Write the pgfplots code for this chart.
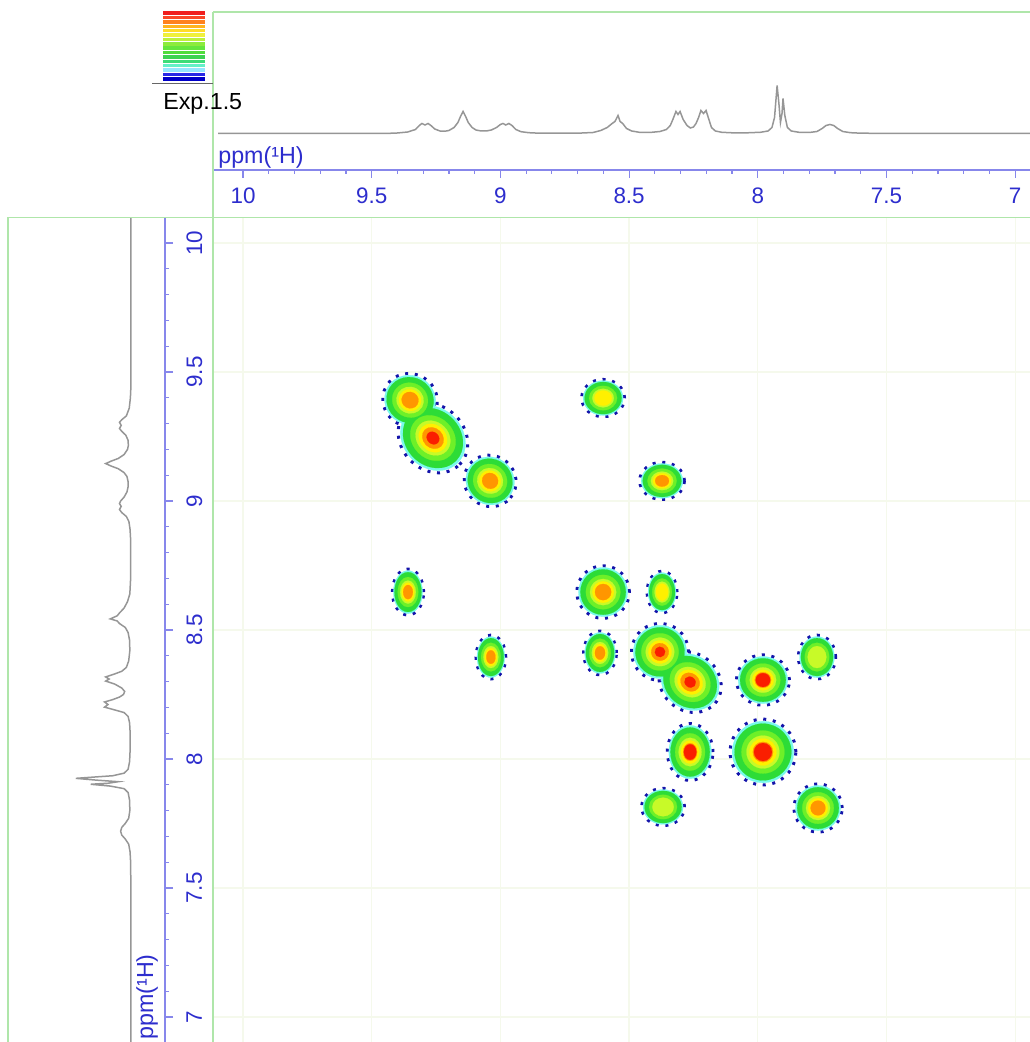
\documentclass[border=0pt]{standalone}
\usepackage{fontspec}
\setmainfont{Liberation Sans}
\usepackage{pgfplots}
\pgfplotsset{compat=1.18}
\usepackage{pgfplotstable}

\definecolor{tickblue}{RGB}{45,45,205}
\definecolor{lineblue}{RGB}{135,135,235}
\definecolor{framegreen}{RGB}{175,230,170}
\definecolor{gridc}{RGB}{245,249,236}
\definecolor{specgray}{RGB}{150,150,150}
\definecolor{ringblue}{RGB}{20,20,170}
\definecolor{cCyan}{RGB}{120,250,235}
\definecolor{cGreen}{RGB}{45,220,55}
\definecolor{cBright}{RGB}{110,240,40}
\definecolor{cLime}{RGB}{200,250,40}
\definecolor{cYellow}{RGB}{255,240,0}
\definecolor{cOrange}{RGB}{255,150,0}
\definecolor{cRed}{RGB}{250,30,0}

\pgfplotstableread{
ppm h
10.097 0
9.45 0
9.40 0.5
9.36 1.5
9.33 4
9.315 8
9.305 10
9.293 8.5
9.281 10
9.27 8
9.255 4.5
9.235 2.5
9.215 2.3
9.20 3
9.18 6
9.165 11
9.155 17
9.145 22
9.135 17
9.125 11
9.11 6
9.095 3.5
9.075 2.5
9.055 2.5
9.035 3.5
9.015 6
9.0 9
8.99 10
8.979 8.5
8.967 10
8.955 8
8.94 4
8.92 1.8
8.89 0.8
8.85 0.3
8.70 0.3
8.64 1
8.61 3
8.585 6
8.566 10
8.555 12
8.543 18
8.535 12
8.525 10
8.51 5
8.49 2.5
8.46 1.2
8.42 1
8.38 2
8.355 4
8.34 8
8.33 14
8.318 22
8.310 19
8.302 22
8.29 14
8.275 8
8.262 5.5
8.25 6.5
8.24 10
8.23 16
8.221 23
8.211 20
8.201 23
8.19 14
8.18 6
8.165 2.5
8.14 1.2
8.10 0.7
8.04 0.7
7.99 1.2
7.96 2.5
7.945 6
7.935 16
7.925 48
7.918 30
7.912 11
7.906 20
7.902 35
7.895 18
7.885 6
7.87 2.5
7.84 1.2
7.80 1
7.77 2
7.75 5
7.735 8
7.72 9
7.705 8
7.69 5
7.67 2
7.64 0.8
7.60 0.3
7.50 0.1
6.90 0
}\spectrum

\pgfplotstableread{
x y r e a lev
9.351 9.391 24 1.05 -30 3
9.262 9.244 29 1.18 -45 4
9.040 9.078 23 1.05 -40 3
8.601 9.399 17 1.15 0 2
8.372 9.078 17 1.2 0 3
9.359 8.647 21 0.68 0 3
9.037 8.395 20 0.68 0 3
8.601 8.647 24 1.0 0 3
8.372 8.647 19 0.72 0 2
8.613 8.411 20 0.75 0 3
8.380 8.415 26 1.0 -40 4
8.263 8.298 26 1.15 -40 4
7.980 8.306 23 1.05 0 5
7.770 8.395 20 0.85 0 1
8.263 8.027 26 0.8 0 5
7.980 8.027 30 1.0 0 5
8.368 7.814 17 1.15 0 1
7.766 7.810 22 1.0 0 3
}\peaks

\newcommand{\blob}[3]{%
 \addplot[#1, scatter, only marks, mark=*,
   visualization depends on={\thisrow{r} \as \rad},
   visualization depends on={\thisrow{e} \as \ecc},
   visualization depends on={\thisrow{a} \as \ang},
   scatter/use mapped color={draw=#1, fill=#1, line width=0.1bp},
   scatter/@pre marker code/.append style={/tikz/rotate=\ang, /tikz/xscale=\ecc, /tikz/mark size={\rad*0.6*#2}},
 ] table[x=x, y expr={\thisrow{lev}>=#3 ? \thisrow{y} : nan}] {\peaks};}

\begin{document}
\begin{tikzpicture}
\path (0,0) rectangle (618bp,625.2bp);

% main 2D plot
\begin{axis}[at={(127.8bp,0bp)}, anchor=south west, scale only axis,
  width=490.2bp, height=494.4bp,
  xmin=6.9425, xmax=10.1166, x dir=reverse, ymin=6.903, ymax=10.097,
  axis line style={draw=none},
  xtick={7,7.5,...,10}, ytick={7,7.5,...,10},
  xticklabels={}, yticklabels={}, major tick length=0pt,
  grid=major, grid style={gridc, line width=0.8bp}]
 \addplot[ringblue, scatter, only marks, mark=o,
   visualization depends on={\thisrow{r} \as \rad},
   visualization depends on={\thisrow{e} \as \ecc},
   visualization depends on={\thisrow{a} \as \ang},
   scatter/use mapped color={draw=ringblue, fill=none, line width=1.8bp, dash pattern=on 1.8bp off 4bp},
   scatter/@pre marker code/.append style={/tikz/rotate=\ang, /tikz/xscale=\ecc, /tikz/mark size={\rad*0.6*1.1}},
 ] table[x=x,y=y] {\peaks};
 \blob{cCyan}{1.03}{0}
 \blob{cGreen}{0.95}{0}
 \blob{cBright}{0.72}{0}
 \blob{cLime}{0.55}{0}
 \blob{cYellow}{0.45}{2}
 \blob{cOrange}{0.34}{3}
 \blob{cRed}{0.2}{4}
 \blob{cRed}{0.3}{5}
\end{axis}

% top 1D spectrum
\begin{axis}[at={(127.8bp,523.2bp)}, anchor=south west, scale only axis,
  width=490.2bp, height=94.8bp,
  xmin=6.9425, xmax=10.1166, x dir=reverse, ymin=-36.5, ymax=121.5,
  axis x line=bottom, axis y line=none,
  x axis line style={-, draw=lineblue, line width=0.7bp},
  xtick={7,7.5,...,10}, minor x tick num=4, tick align=outside,
  major tick length=4.8bp, minor tick length=2.4bp,
  every tick/.style={draw=lineblue, line width=0.7bp},
  xticklabel style={text=tickblue, font=\fontsize{13.5}{15}\selectfont},
  xticklabel shift=2.5bp,
  /pgf/number format/assume math mode=true, clip=false]
 \addplot[specgray, line width=0.9bp] table[x=ppm,y=h] {\spectrum};
\end{axis}

% left 1D spectrum
\begin{axis}[at={(4.8bp,0bp)}, anchor=south west, scale only axis,
  width=94.2bp, height=494.4bp,
  ymin=6.903, ymax=10.097, xmin=-29.6, xmax=107, x dir=reverse,
  axis y line=right, axis x line=none,
  y axis line style={-, draw=lineblue, line width=0.7bp},
  ytick={7,7.5,...,10}, minor y tick num=4, tick align=outside,
  major tick length=4.8bp, minor tick length=2.4bp,
  every tick/.style={draw=lineblue, line width=0.7bp},
  yticklabel style={rotate=90, anchor=north, text=tickblue, font=\fontsize{13.5}{15}\selectfont},
  yticklabel shift=4.5bp,
  /pgf/number format/assume math mode=true, clip=false]
 \addplot[specgray, line width=0.9bp] table[x expr=\thisrow{h}*1.0, y=ppm] {\spectrum};
\end{axis}

% colour scale
\begin{axis}[at={(97.8bp,576.6bp)}, anchor=south west, scale only axis,
  width=25.2bp, height=42bp, hide axis,
  xmin=0, xmax=1, ymin=0.5, ymax=16.5,
  colormap={bar}{rgb255=(0,0,200) rgb255=(40,40,230) rgb255=(150,230,255) rgb255=(100,240,200)
   rgb255=(60,220,120) rgb255=(60,210,80) rgb255=(80,220,60) rgb255=(100,230,60)
   rgb255=(140,235,60) rgb255=(190,240,60) rgb255=(240,240,60) rgb255=(255,220,40)
   rgb255=(255,180,30) rgb255=(255,130,30) rgb255=(250,70,40) rgb255=(240,30,30)},
  point meta min=1, point meta max=16]
 \addplot[scatter, only marks, mark=-, mark size=12.6bp, point meta=y,
   scatter/use mapped color={draw=mapped color, line width=2.1bp}]
   coordinates {(0.5,1) (0.5,2) (0.5,3) (0.5,4) (0.5,5) (0.5,6) (0.5,7) (0.5,8)
    (0.5,9) (0.5,10) (0.5,11) (0.5,12) (0.5,13) (0.5,14) (0.5,15) (0.5,16)};
\end{axis}

% frame lines and labels
\draw[framegreen, line width=0.8bp] (127.8bp,0bp) -- (127.8bp,618bp);
\draw[framegreen, line width=0.8bp] (127.8bp,618bp) -- (618bp,618bp);
\draw[framegreen, line width=0.8bp] (4.8bp,494.8bp) -- (618bp,494.8bp);
\draw[framegreen, line width=0.8bp] (4.8bp,0bp) -- (4.8bp,494.8bp);
\draw[black!60, line width=0.6bp] (91.2bp,574.8bp) -- (127.8bp,574.8bp);
\node[anchor=base west, inner sep=0pt, font=\fontsize{14}{16}\selectfont] at (97.8bp,559.2bp) {Exp.1.5};
\node[anchor=west, inner sep=0pt, text=tickblue, font=\fontsize{14}{16}\selectfont] at (130.8bp,530.8bp) {ppm(¹H)};
\node[anchor=west, rotate=90, inner sep=0pt, text=tickblue, font=\fontsize{14}{16}\selectfont] at (88.2bp,1.2bp) {ppm(¹H)};

\pgfresetboundingbox
\path[use as bounding box] (0,0) rectangle (618bp,625.2bp);
\end{tikzpicture}
\end{document}
